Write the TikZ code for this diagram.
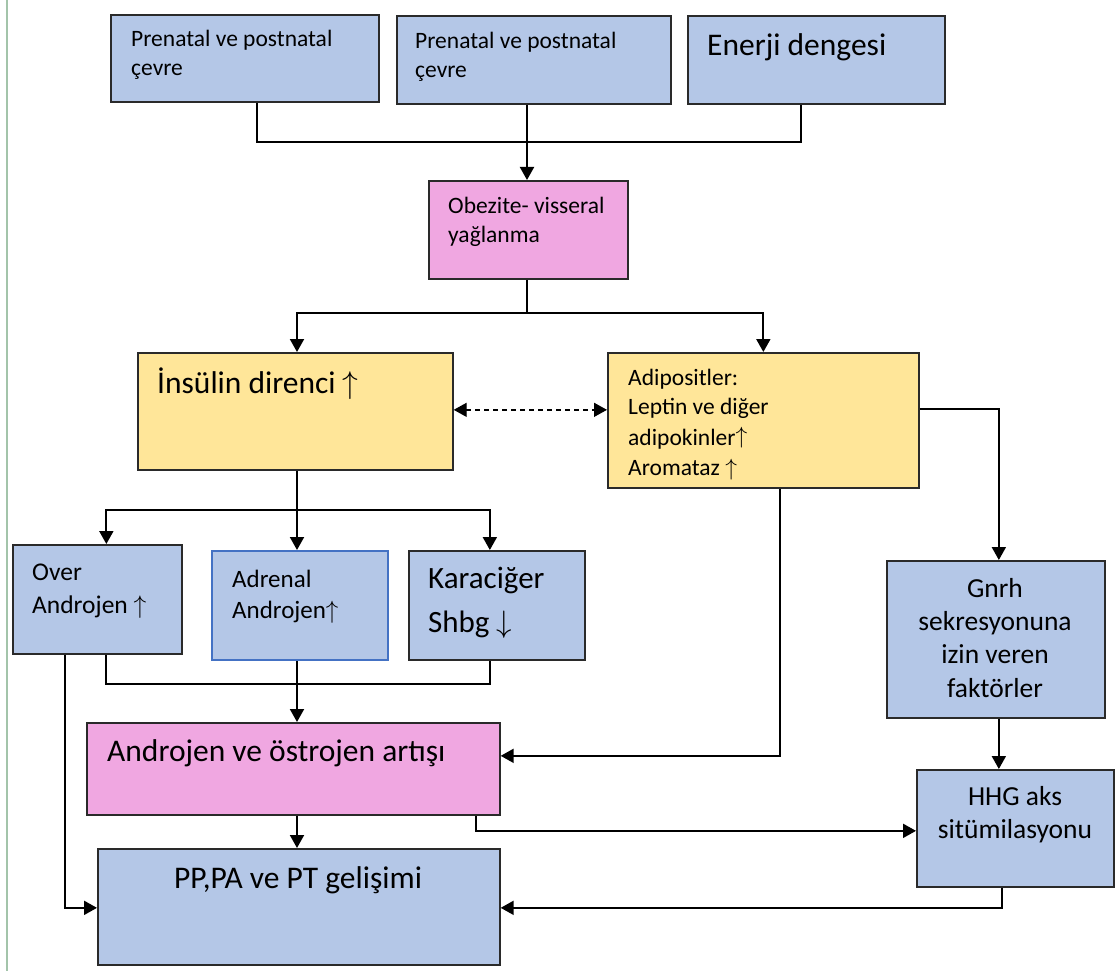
\RequirePackage{fix-cm}
\documentclass[tikz,border=0pt]{standalone}
\usepackage{fontspec}
\setmainfont{Carlito}
\usetikzlibrary{arrows.meta}
\definecolor{bluef}{HTML}{B4C7E7}
\definecolor{yellowf}{HTML}{FFE699}
\definecolor{pinkf}{HTML}{F0A7E1}
\definecolor{edgec}{HTML}{2A2A2A}
\definecolor{adrc}{HTML}{4472C4}
\definecolor{greenl}{HTML}{A3C4AA}
\newcommand\uarr{\(\uparrow\)}
\newcommand\darr{\(\downarrow\)}
\newcommand\fs[2]{\fontsize{#1}{#2}\selectfont}
\begin{document}
\begin{tikzpicture}[x=1pt,y=-1pt,
  box/.style={draw=edgec, line width=1.7pt, anchor=north west, inner sep=0pt},
  bluebox/.style={box, fill=bluef},
  yelbox/.style={box, fill=yellowf},
  pinkbox/.style={box, fill=pinkf},
  txt/.style={anchor=base west, inner sep=0pt},
  ctxt/.style={anchor=base, inner sep=0pt, align=center},
  conn/.style={line width=2pt, draw=black},
  arr/.style={conn, -{Triangle[length=13pt,width=14pt]}},
]
\useasboundingbox (0,0) rectangle (1117,971);
\fill[white] (0,0) rectangle (1117,971);
\draw[greenl, line width=2pt] (7,0) -- (7,971);

% boxes
\node[bluebox, minimum width=268, minimum height=87] (p1) at (110,14) {};
\node[bluebox, minimum width=274, minimum height=88] (p2) at (396,15) {};
\node[bluebox, minimum width=257, minimum height=88] (en) at (687,15) {};
\node[pinkbox, minimum width=199, minimum height=98] (ob) at (428,180) {};
\node[yelbox, minimum width=315, minimum height=117] (ins) at (137,352) {};
\node[yelbox, minimum width=311, minimum height=135] (adi) at (607,352) {};
\node[bluebox, minimum width=169, minimum height=109] (ov) at (12,544) {};
\node[bluebox, draw=adrc, line width=2.4pt, minimum width=176, minimum height=109] (adr) at (211,550) {};
\node[bluebox, minimum width=176, minimum height=109] (kar) at (408,550) {};
\node[pinkbox, minimum width=413, minimum height=92] (and) at (86,722) {};
\node[bluebox, minimum width=402, minimum height=116] (pp) at (97,848) {};
\node[bluebox, minimum width=218, minimum height=157] (gn) at (886,560) {};
\node[bluebox, minimum width=197, minimum height=117] (hhg) at (916,769) {};

% texts
\node[txt, font=\fs{23.5}{29}] (tp1a) at (131,47) {Prenatal ve postnatal};
\node[txt, font=\fs{23.5}{29}] (tp1b) at (131,76) {çevre};
\node[txt, font=\fs{23.5}{29}] (tp2a) at (415,49) {Prenatal ve postnatal};
\node[txt, font=\fs{23.5}{29}] (tp2b) at (415,78) {çevre};
\node[txt, font=\fs{31.5}{38}] (ten) at (707,56) {Enerji dengesi};
\node[txt, font=\fs{23.5}{29}] (toba) at (448,213) {Obezite- visseral};
\node[txt, font=\fs{23.5}{29}] (tobb) at (448,242) {yağlanma};
\node[txt, font=\fs{31.5}{38}] (tins) at (157,393) {İnsülin direnci \uarr};
\node[txt, font=\fs{23.5}{29}] (tad1) at (628,385) {Adipositler:};
\node[txt, font=\fs{23.5}{29}] (tad2) at (628,414) {Leptin ve diğer};
\node[txt, font=\fs{23.5}{29}] (tad3) at (628,445) {adipokinler\raisebox{2pt}{\uarr}};
\node[txt, font=\fs{23.5}{29}] (tad4) at (628,475) {Aromataz \uarr};
\node[txt, font=\fs{25.5}{32}] (tov1) at (32,580) {Over};
\node[txt, font=\fs{25.5}{32}] (tov2) at (32,613) {Androjen \uarr};
\node[txt, font=\fs{25}{32}] (tadr1) at (232,587) {Adrenal};
\node[txt, font=\fs{25}{32}] (tadr2) at (232,618) {Androjen\uarr};
\node[txt, font=\fs{31}{38}] (tkar1) at (428,588) {Karaciğer};
\node[txt, font=\fs{31}{38}] (tkar2) at (428,632) {Shbg \darr};
\node[txt, font=\fs{31.5}{38}] (tand) at (107,761) {Androjen ve östrojen artışı};
\node[ctxt, font=\fs{31.5}{38}] (tpp) at (298,888) {PP,PA ve PT gelişimi};
\node[ctxt, font=\fs{27.5}{33}] (tgn1) at (995,597) {Gnrh};
\node[ctxt, font=\fs{27.5}{33}] (tgn2) at (995,630) {sekresyonuna};
\node[ctxt, font=\fs{27.5}{33}] (tgn3) at (995,663) {izin veren};
\node[ctxt, font=\fs{27.5}{33}] (tgn4) at (995,697) {faktörler};
\node[ctxt, font=\fs{27.5}{33}] (thh1) at (1015,805) {HHG aks};
\node[ctxt, font=\fs{27.5}{33}] (thh2) at (1015,838) {sitümilasyonu};

% junction coordinates
\coordinate (j1) at (527,142);
\coordinate (j2) at (527,313);
\coordinate (j3) at (297,510);
\coordinate (j4) at (297,684);

% connectors
\draw[conn] ([xshift=12pt]p1.south) |- (j1) -| ([xshift=-15.5pt]en.south);
\draw[arr] (p2.south -| j1) -- (ob.north -| j1);
\draw[conn] (ob.south -| j2) -- (j2);
\draw[arr] (j2) -| (ins.north -| j3);
\draw[arr] (j2) -| (adi.north);
\draw[conn, dashed, dash pattern=on 5pt off 4pt, line width=1.4pt,
  {Triangle[length=13pt,width=14pt]}-{Triangle[length=13pt,width=14pt]}]
  ([yshift=1.5pt]ins.east) -- ([yshift=1.5pt]ins.east -| adi.west);
\draw[conn] (ins.south -| j3) -- (j3);
\draw[arr] (j3) -| ([xshift=9pt]ov.north);
\draw[arr] (j3) -- (j3 |- adr.north);
\draw[arr] (j3) -| ([xshift=-7pt]kar.north);
\draw[conn] ([xshift=9pt]ov.south) |- (j4);
\draw[conn] ([xshift=-7pt]kar.south) |- (j4);
\draw[arr] (j4 |- adr.south) -- (j4 |- and.north);
\draw[arr] ([xshift=-32.5pt]ov.south) |- ([yshift=-1pt]pp.west);
\draw[arr] (j4 |- and.south) -- (j4 |- pp.north);
\draw[arr] ([xshift=-25pt]and.south east) |- ([yshift=-2.5pt]hhg.west);
\draw[arr] ([xshift=16.5pt]adi.south) |- ([yshift=13pt]and.east);
\draw[arr] ([yshift=11pt]adi.east) -| ([xshift=3pt]gn.north);
\draw[arr] ([xshift=3pt]gn.south) -- ([xshift=3pt]gn.south |- hhg.north);
\draw[arr] ([xshift=-13.5pt]hhg.south) |- ([yshift=-1pt]pp.east);
\end{tikzpicture}
\end{document}
